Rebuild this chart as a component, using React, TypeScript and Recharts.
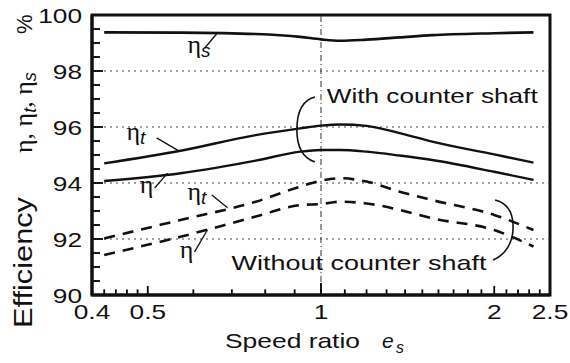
import React from 'react';
import {
  LineChart,
  Line,
  XAxis,
  YAxis,
  ReferenceLine,
  ReferenceArea,
  ReferenceDot,
} from 'recharts';

// ---- data ----
const speedRatio = [0.42, 0.57, 0.77, 0.92, 1.0, 1.08, 1.2, 1.37, 1.56, 2.0, 2.34];
const etaS = [99.38, 99.37, 99.32, 99.22, 99.13, 99.08, 99.12, 99.2, 99.28, 99.35, 99.38];
const etaTWith = [94.7, 95.15, 95.71, 95.95, 96.05, 96.09, 96.04, 95.78, 95.48, 95.02, 94.73];
const etaWith = [94.07, 94.35, 94.8, 95.12, 95.18, 95.18, 95.12, 94.98, 94.82, 94.4, 94.11];
const etaTWithout = [92.02, 92.68, 93.33, 93.87, 94.08, 94.17, 94.05, 93.69, 93.39, 92.86, 92.32];
const etaWithout = [91.43, 92.08, 92.8, 93.21, 93.25, 93.33, 93.27, 93.04, 92.74, 92.32, 91.73];

const xTickLabels = [0.4, 0.5, 1, 2, 2.5];
const xMinorTicks = [
  0.42, 0.44, 0.46, 0.48, 0.5, 0.6, 0.7, 0.8, 0.9, 1, 1.1, 1.2, 1.3, 1.4, 1.5, 1.6,
  1.7, 1.8, 1.9, 2, 2.1, 2.2, 2.3, 2.4,
];
const yTickLabels = [90, 92, 94, 96, 98, 100];
const yMinorTicks = [
  90.5, 91, 91.5, 92, 92.5, 93, 93.5, 94, 94.5, 95, 95.5, 96, 96.5, 97, 97.5, 98, 98.5,
  99, 99.5,
];
const gridY = [92, 94, 96, 98];

const rows = speedRatio.map((e, i) => ({
  e,
  etaS: etaS[i],
  etaTWith: etaTWith[i],
  etaWith: etaWith[i],
  etaTWithout: etaTWithout[i],
  etaWithout: etaWithout[i],
}));

const SANS = '"Liberation Sans", Arial, Helvetica, sans-serif';
const SERIF = '"Liberation Serif", "Times New Roman", serif';
const INK = '#111111';

function XTick(props: any) {
  const { x, y, payload } = props;
  return (
    <text
      transform={`translate(${x},${y + 24}) scale(1.25,1)`}
      textAnchor="middle"
      fontSize={21}
      fontFamily={SANS}
      fill={INK}
    >
      {String(payload.value)}
    </text>
  );
}

function YTick(props: any) {
  const { x, y, payload } = props;
  return (
    <text
      transform={`translate(${x - 10},${y + 7.5}) scale(1.25,1)`}
      textAnchor="end"
      fontSize={21}
      fontFamily={SANS}
      fill={INK}
    >
      {String(payload.value)}
    </text>
  );
}

function XLabel(props: any) {
  const { viewBox } = props;
  const x0 = viewBox.x + 133;
  const base = viewBox.y + 53;
  return (
    <g fill={INK}>
      <text x={x0} y={base} fontSize={21} fontFamily={SANS} textLength={135} lengthAdjust="spacingAndGlyphs">
        Speed ratio
      </text>
      <text x={x0 + 157} y={base} fontSize={21} fontFamily={SANS} fontStyle="italic">
        e
      </text>
      <text x={x0 + 171} y={base + 5} fontSize={16} fontFamily={SANS} fontStyle="italic">
        s
      </text>
    </g>
  );
}

function YLabel() {
  return (
    <g transform="translate(32,0) rotate(-90)" fill={INK}>
      <text x={-328} y={0} fontSize={26} fontFamily={SANS} textLength={131} lengthAdjust="spacingAndGlyphs">
        Efficiency
      </text>
      <text x={-153} y={0} fontFamily={SERIF} fontSize={26}>
        <tspan>η, η</tspan>
        <tspan fontFamily={SANS} fontStyle="italic" fontSize={18} dy={4}>t</tspan>
        <tspan dy={-4}>, η</tspan>
        <tspan fontFamily={SANS} fontStyle="italic" fontSize={18} dy={4}>s</tspan>
      </text>
      <text x={-34} y={0} fontSize={22} fontFamily={SANS}>
        %
      </text>
    </g>
  );
}

function EtaLabel(sub: string) {
  return (props: any) => {
    const { cx, cy } = props;
    return (
      <text x={cx} y={cy} fill={INK}>
        <tspan fontFamily={SERIF} fontSize={26}>η</tspan>
        {sub && (
          <tspan fontFamily={SANS} fontStyle="italic" fontSize={19} dy={4}>
            {sub}
          </tspan>
        )}
      </text>
    );
  };
}

function TextLabel(label: string, len: number) {
  return (props: any) => {
    const { cx, cy } = props;
    return (
      <text
        x={cx}
        y={cy}
        fill={INK}
        fontSize={21}
        fontFamily={SANS}
        textLength={len}
        lengthAdjust="spacingAndGlyphs"
      >
        {label}
      </text>
    );
  };
}

const LeftBracket = (props: any) => {
  const { cx, cy } = props;
  return (
    <path
      transform={`translate(${cx},${cy})`}
      d="M18,-33 C6,-30 0,-18 0,0 C0,18 6,28 18,32"
      fill="none"
      stroke={INK}
      strokeWidth={1.6}
    />
  );
};

const RightBracket = (props: any) => {
  const { cx, cy } = props;
  return (
    <path
      transform={`translate(${cx},${cy})`}
      d="M-18,-25 C-6,-22 0,-12 0,2 C0,18 -8,30 -20,35"
      fill="none"
      stroke={INK}
      strokeWidth={1.6}
    />
  );
};

// tick lengths expressed in axis units (inward ticks)
const xTickLen = (v: number) => (v === 1 ? 0.43 : v === 0.5 || v === 2 ? 0.32 : 0.2);
const yTickEnd = (v: number) => (yTickLabels.indexOf(v) >= 0 ? 0.418 : 0.413);

export default function App() {
  return (
    <div style={{ position: 'absolute', left: 0, top: 0, width: 570, height: 363, background: '#fff' }}>
      <LineChart
        width={570}
        height={363}
        data={rows}
        margin={{ top: 15, right: 20, bottom: 0, left: 0 }}
      >
        <XAxis
          dataKey="e"
          type="number"
          scale="log"
          domain={[0.4, 2.5]}
          allowDataOverflow
          ticks={xTickLabels}
          interval={0}
          tickSize={0}
          tickMargin={0}
          tickLine={false}
          tick={<XTick />}
          height={68}
          axisLine={{ stroke: INK, strokeWidth: 3 }}
          label={{ content: <XLabel /> }}
        />
        <YAxis
          type="number"
          domain={[90, 100]}
          allowDataOverflow
          ticks={yTickLabels}
          interval={0}
          tickSize={0}
          tickMargin={0}
          tickLine={false}
          tick={<YTick />}
          width={92}
          axisLine={{ stroke: INK, strokeWidth: 3 }}
          label={{ content: <YLabel /> }}
        />
        {gridY.map((v) => (
          <ReferenceLine key={v} y={v} stroke="#444" strokeWidth={1} strokeDasharray="2 4" />
        ))}
        <ReferenceLine x={1} stroke="#333" strokeWidth={1} strokeDasharray="6 3 1 3" />

        {xMinorTicks.map((v) => (
          <ReferenceLine
            key={`xt${v}`}
            segment={[{ x: v, y: 90 }, { x: v, y: 90 + xTickLen(v) }]}
            stroke="#000"
            strokeWidth={1.8}
          />
        ))}
        {yMinorTicks.map((v) => (
          <ReferenceLine
            key={`yt${v}`}
            segment={[{ x: 0.4, y: v }, { x: yTickEnd(v), y: v }]}
            stroke="#000"
            strokeWidth={1.8}
          />
        ))}

        <Line dataKey="etaS" type="monotone" stroke={INK} strokeWidth={2.6} dot={false} isAnimationActive={false} />
        <Line dataKey="etaTWith" type="monotone" stroke={INK} strokeWidth={2.4} dot={false} isAnimationActive={false} />
        <Line dataKey="etaWith" type="monotone" stroke={INK} strokeWidth={2.4} dot={false} isAnimationActive={false} />
        <Line dataKey="etaTWithout" type="monotone" stroke={INK} strokeWidth={2.6} strokeDasharray="11 8" dot={false} isAnimationActive={false} />
        <Line dataKey="etaWithout" type="monotone" stroke={INK} strokeWidth={2.6} strokeDasharray="11 8" dot={false} isAnimationActive={false} />

        {/* leader lines */}
        <ReferenceLine segment={[{ x: 0.628, y: 98.82 }, { x: 0.659, y: 99.33 }]} stroke={INK} strokeWidth={1.3} />
        <ReferenceLine segment={[{ x: 0.518, y: 95.61 }, { x: 0.568, y: 95.13 }]} stroke={INK} strokeWidth={1.3} />
        <ReferenceLine segment={[{ x: 0.514, y: 93.82 }, { x: 0.541, y: 94.35 }]} stroke={INK} strokeWidth={1.3} />
        <ReferenceLine segment={[{ x: 0.646, y: 93.57 }, { x: 0.688, y: 93.12 }]} stroke={INK} strokeWidth={1.3} />
        <ReferenceLine segment={[{ x: 0.603, y: 91.54 }, { x: 0.635, y: 92.33 }]} stroke={INK} strokeWidth={1.3} />

        {/* curve labels */}
        <ReferenceDot x={0.586} y={98.64} shape={EtaLabel('s')} />
        <ReferenceDot x={0.459} y={95.54} shape={EtaLabel('t')} />
        <ReferenceDot x={0.484} y={93.64} shape={EtaLabel('')} />
        <ReferenceDot x={0.586} y={93.39} shape={EtaLabel('t')} />
        <ReferenceDot x={0.568} y={91.32} shape={EtaLabel('')} />

        <ReferenceDot x={1.023} y={96.86} shape={TextLabel('With counter shaft', 211)} />
        <ReferenceDot x={0.699} y={90.89} shape={TextLabel('Without counter shaft', 255)} />
        <ReferenceDot x={0.908} y={95.89} shape={LeftBracket} />
        <ReferenceDot x={2.157} y={92.5} shape={RightBracket} />

        <ReferenceArea x1={0.4} x2={2.5} y1={90} y2={100} fill="none" stroke={INK} strokeWidth={3} />
      </LineChart>
    </div>
  );
}
